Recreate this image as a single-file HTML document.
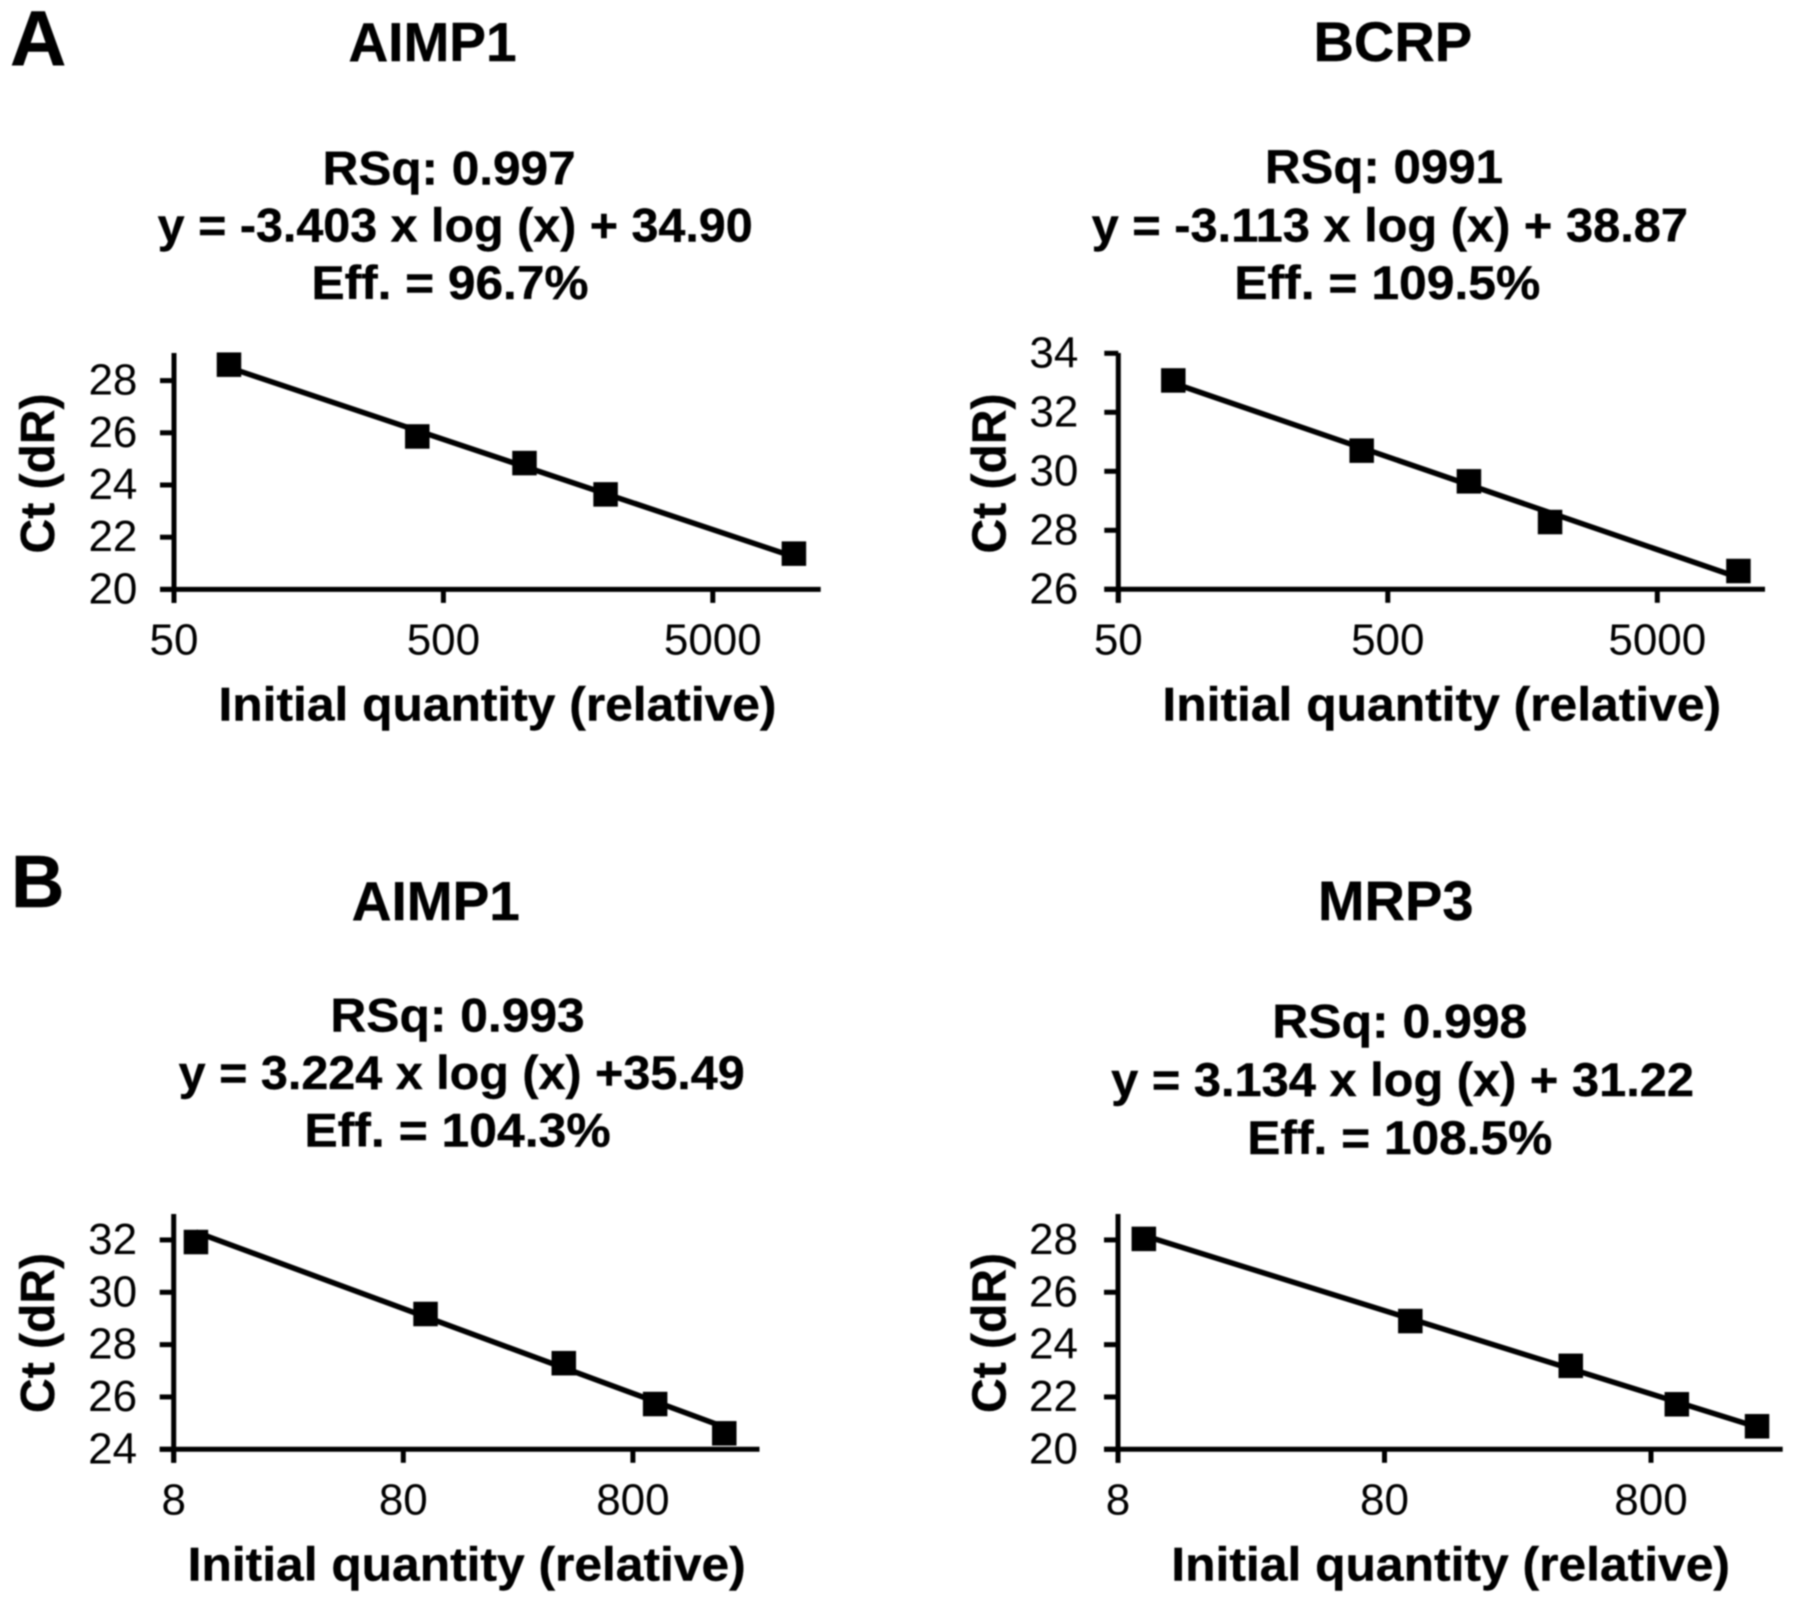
<!DOCTYPE html>
<html>
<head>
<meta charset="utf-8">
<title>qPCR standard curves</title>
<style>
html,body{margin:0;padding:0;background:#fff;}
svg{display:block;filter:blur(0.7px);}
text{font-family:"Liberation Sans",sans-serif;fill:#000;}
.st{font-weight:bold;font-size:47px;stroke:#000;stroke-width:.4px;}
.yt{font-weight:bold;font-size:48px;stroke:#000;stroke-width:.4px;}
.ti{font-weight:bold;font-size:55px;stroke:#000;stroke-width:.4px;}
.ti2{font-weight:bold;font-size:56px;stroke:#000;stroke-width:.4px;}
.pl{font-weight:bold;font-size:78px;stroke:#000;stroke-width:.4px;}
.tk{font-size:44px;}
</style>
</head>
<body>
<svg id="chart" xmlns="http://www.w3.org/2000/svg" width="1795" height="1604" viewBox="0 0 1795 1604">
<rect width="1795" height="1604" fill="#fff"/>
<text class="pl" x="10" y="65">A</text>
<text class="pl" x="11" y="907" style="font-size:74px">B</text>

<text class="ti" x="432.5" y="61" text-anchor="middle">AIMP1</text>
<text class="st" x="322.6" y="184.5" textLength="253" lengthAdjust="spacingAndGlyphs">RSq: 0.997</text>
<text class="st" x="157.7" y="241.5" textLength="595" lengthAdjust="spacingAndGlyphs">y = -3.403 x log (x) + 34.90</text>
<text class="st" x="311.5" y="299" textLength="277" lengthAdjust="spacingAndGlyphs">Eff. = 96.7%</text>

<text class="ti2" x="1392.8" y="61" text-anchor="middle">BCRP</text>
<text class="st" x="1265" y="183" textLength="238" lengthAdjust="spacingAndGlyphs">RSq: 0991</text>
<text class="st" x="1091.6" y="241.5" textLength="596.4" lengthAdjust="spacingAndGlyphs">y = -3.113 x log (x) + 38.87</text>
<text class="st" x="1234.3" y="299" textLength="306" lengthAdjust="spacingAndGlyphs">Eff. = 109.5%</text>

<text class="ti" x="435.8" y="920" text-anchor="middle">AIMP1</text>
<text class="st" x="330.4" y="1031.5" textLength="254.3" lengthAdjust="spacingAndGlyphs">RSq: 0.993</text>
<text class="st" x="178.7" y="1089" textLength="566" lengthAdjust="spacingAndGlyphs">y = 3.224 x log (x) +35.49</text>
<text class="st" x="304.4" y="1146.5" textLength="306.3" lengthAdjust="spacingAndGlyphs">Eff. = 104.3%</text>

<text class="ti2" x="1395.7" y="920" text-anchor="middle">MRP3</text>
<text class="st" x="1272.3" y="1037.5" textLength="255" lengthAdjust="spacingAndGlyphs">RSq: 0.998</text>
<text class="st" x="1111.2" y="1096" textLength="582.8" lengthAdjust="spacingAndGlyphs">y = 3.134 x log (x) + 31.22</text>
<text class="st" x="1247.3" y="1154" textLength="305" lengthAdjust="spacingAndGlyphs">Eff. = 108.5%</text>

<text class="st" x="218.5" y="720.6" textLength="558" lengthAdjust="spacingAndGlyphs">Initial quantity (relative)</text>
<text class="st" x="1162.4" y="720.6" textLength="558.7" lengthAdjust="spacingAndGlyphs">Initial quantity (relative)</text>
<text class="st" x="187.7" y="1580.6" textLength="558" lengthAdjust="spacingAndGlyphs">Initial quantity (relative)</text>
<text class="st" x="1171.3" y="1580.6" textLength="558.7" lengthAdjust="spacingAndGlyphs">Initial quantity (relative)</text>

<text class="yt" text-anchor="middle" transform="translate(54 473.5) rotate(-90)">Ct (dR)</text>
<text class="yt" text-anchor="middle" transform="translate(1005.5 473.5) rotate(-90)">Ct (dR)</text>
<text class="yt" text-anchor="middle" transform="translate(54 1333) rotate(-90)">Ct (dR)</text>
<text class="yt" text-anchor="middle" transform="translate(1005.5 1333) rotate(-90)">Ct (dR)</text>
</svg>
<script>
// Panel A, AIMP1
const aAimp1Quantity = [80, 400, 1000, 2000, 10000];
const aAimp1Ct = [28.61, 25.86, 24.84, 23.64, 21.37];
const aAimp1TrendQuantity = [80, 10000];
const aAimp1TrendCt = [28.5, 21.25];
const aAimp1XTicks = [50, 500, 5000];
const aAimp1YTicks = [20, 22, 24, 26, 28];

// Panel A, BCRP
const aBcrpQuantity = [80, 400, 1000, 2000, 10000];
const aBcrpCt = [33.08, 30.7, 29.66, 28.28, 26.62];
const aBcrpTrendQuantity = [80, 10000];
const aBcrpTrendCt = [32.99, 26.40];
const aBcrpXTicks = [50, 500, 5000];
const aBcrpYTicks = [26, 28, 30, 32, 34];

// Panel B, AIMP1
const bAimp1Quantity = [10, 100, 400, 1000, 2000];
const bAimp1Ct = [31.92, 29.17, 27.29, 25.73, 24.61];
const bAimp1TrendQuantity = [10, 2000];
const bAimp1TrendCt = [32.3, 24.85];
const bAimp1XTicks = [8, 80, 800];
const bAimp1YTicks = [24, 26, 28, 30, 32];

// Panel B, MRP3
const bMrp3Quantity = [10, 100, 400, 1000, 2000];
const bMrp3Ct = [28.04, 24.9, 23.19, 21.72, 20.88];
const bMrp3TrendQuantity = [10, 2000];
const bMrp3TrendCt = [28.17, 20.85];
const bMrp3XTicks = [8, 80, 800];
const bMrp3YTicks = [20, 22, 24, 26, 28];

const NS = 'http://www.w3.org/2000/svg';
const svg = document.getElementById('chart');

function make(tag, attrs) {
  const el = document.createElementNS(NS, tag);
  for (const k in attrs) el.setAttribute(k, attrs[k]);
  svg.appendChild(el);
  return el;
}

function drawPanel(p) {
  const xScale = v => p.left + Math.log10(v / p.xTicks[0]) * p.decade;
  const yScale = v => p.bottom - (v - p.yTicks[0]) * p.unit;

  const trend = make('line', {
    x1: xScale(p.trendX[0]), y1: yScale(p.trendY[0]),
    x2: xScale(p.trendX[1]), y2: yScale(p.trendY[1]),
    stroke: '#000', 'stroke-width': 5.5
  });
  
  

  const yAxis = make('line', { x1: p.left, y1: p.top, x2: p.left, y2: p.bottom + 13.5, stroke: '#000', 'stroke-width': 5 });
  
  

  const xAxis = make('line', { x1: p.left - 14, y1: p.bottom, x2: p.right, y2: p.bottom, stroke: '#000', 'stroke-width': 5 });
  
  

  p.yTicks.forEach(v => {
    const y = yScale(v);
    const tick = make('line', { x1: p.left - 14, y1: y, x2: p.left, y2: y, stroke: '#000', 'stroke-width': 5 });
    
    
    const label = make('text', { class: 'tk', x: p.left - p.labelGap, y: y + 14, 'text-anchor': 'end' });
    label.textContent = v;
    
    
  });

  p.xTicks.forEach(v => {
    const x = xScale(v);
    const tick = make('line', { x1: x, y1: p.bottom, x2: x, y2: p.bottom + 13.5, stroke: '#000', 'stroke-width': 5 });
    
    
    const label = make('text', { class: 'tk', x: x, y: p.bottom + 65, 'text-anchor': 'middle' });
    label.textContent = v;
    
    
  });

  p.x.forEach((q, i) => {
    const cx = xScale(q);
    const cy = yScale(p.y[i]);
    const point = make('rect', { x: cx - 12.25, y: cy - 12.25, width: 24.5, height: 24.5, fill: '#000' });
    
    
  });
}

drawPanel({ id: 'a-aimp1', x: aAimp1Quantity, y: aAimp1Ct, trendX: aAimp1TrendQuantity, trendY: aAimp1TrendCt, xTicks: aAimp1XTicks, yTicks: aAimp1YTicks, left: 174, right: 820.7, top: 353, bottom: 589.4, decade: 269.4, unit: 26.1, labelGap: 36.6 });
drawPanel({ id: 'a-bcrp', x: aBcrpQuantity, y: aBcrpCt, trendX: aBcrpTrendQuantity, trendY: aBcrpTrendCt, xTicks: aBcrpXTicks, yTicks: aBcrpYTicks, left: 1118.3, right: 1765, top: 353, bottom: 589.3, decade: 269.5, unit: 29.5, labelGap: 40 });
drawPanel({ id: 'b-aimp1', x: bAimp1Quantity, y: bAimp1Ct, trendX: bAimp1TrendQuantity, trendY: bAimp1TrendCt, xTicks: bAimp1XTicks, yTicks: bAimp1YTicks, left: 173.7, right: 759.5, top: 1214, bottom: 1449.3, decade: 229.6, unit: 26.17, labelGap: 36.6 });
drawPanel({ id: 'b-mrp3', x: bMrp3Quantity, y: bMrp3Ct, trendX: bMrp3TrendQuantity, trendY: bMrp3TrendCt, xTicks: bMrp3XTicks, yTicks: bMrp3YTicks, left: 1118, right: 1782.7, top: 1214, bottom: 1449.3, decade: 266.5, unit: 26.17, labelGap: 40 });
</script>
</body>
</html>
